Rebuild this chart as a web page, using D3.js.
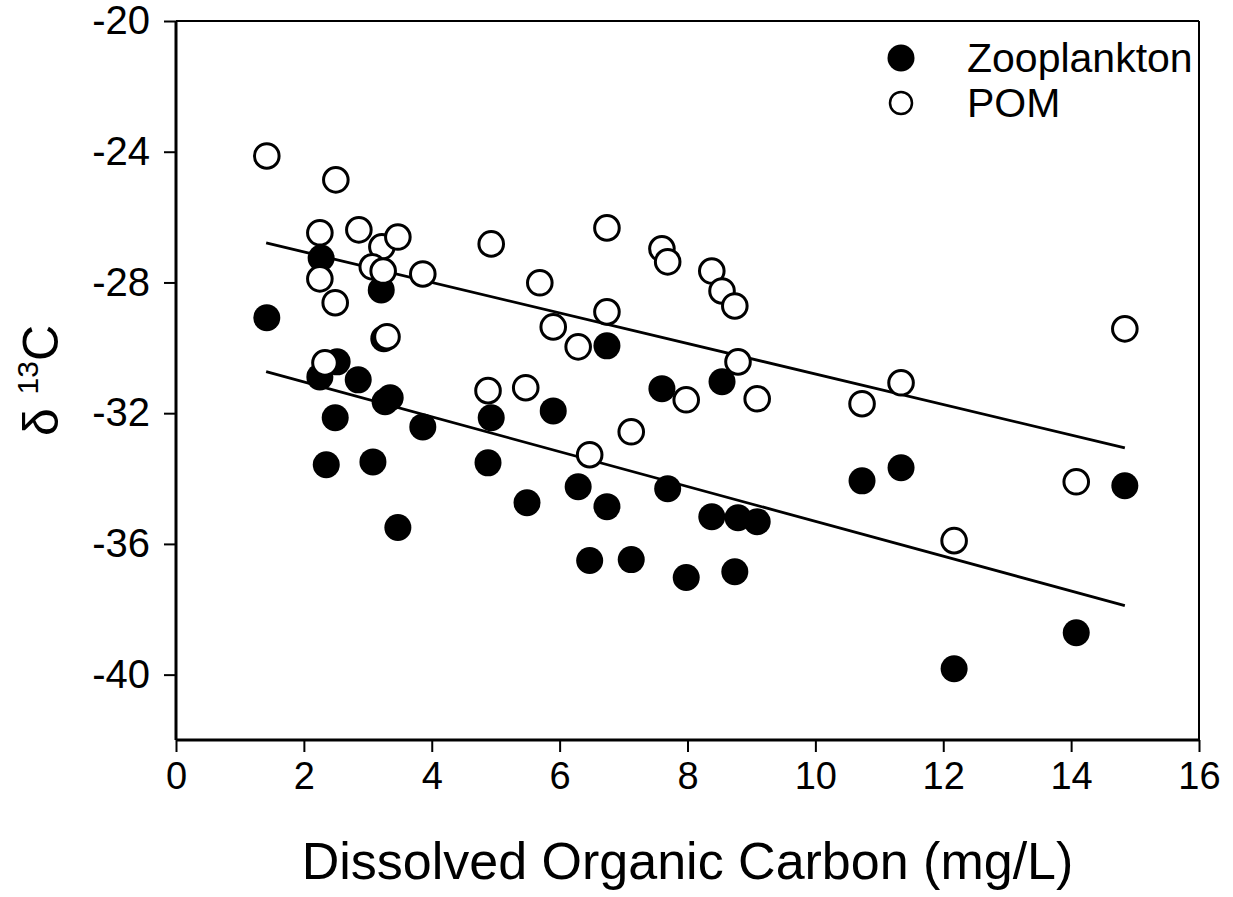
<!DOCTYPE html>
<html>
<head>
<meta charset="utf-8">
<script src="https://cdn.jsdelivr.net/npm/d3@7"></script>
<style>
  html, body { margin: 0; padding: 0; background: #fff; }
  svg { display: block; }
  text { font-family: "Liberation Sans", Arial, sans-serif; fill: #000; }
</style>
</head>
<body>
<svg id="chart" width="1233" height="897"></svg>
<script>
// ---- data ----
const zooX = [1.42, 2.27, 3.21, 3.25, 2.25, 2.52, 2.85, 3.27, 3.35, 2.49, 3.86, 2.35, 3.08, 3.47,
              6.74, 4.93, 5.90, 7.60, 8.54, 4.88, 6.29, 7.69, 5.49, 6.74, 8.38, 8.79, 9.09,
              6.47, 7.12, 7.98, 8.74, 10.73, 11.34, 14.84, 14.08, 12.17];
const zooY = [-29.08, -27.25, -28.23, -29.72, -30.89, -30.43, -30.98, -31.65, -31.53, -32.14, -32.42, -33.58, -33.49, -35.50,
              -29.94, -32.14, -31.93, -31.25, -31.04, -33.52, -34.25, -34.31, -34.74, -34.86, -35.17, -35.20, -35.32,
              -36.51, -36.48, -37.03, -36.85, -34.07, -33.67, -34.22, -38.72, -39.82];
const pomX = [1.42, 2.50, 2.25, 2.86, 3.22, 3.47, 3.07, 3.24, 3.86, 2.25, 2.49, 3.30, 2.33,
              4.93, 6.74, 7.60, 7.69, 8.38, 8.54, 8.74, 5.69, 6.74, 5.90, 6.29, 8.79,
              4.88, 5.47, 7.98, 9.09, 7.12, 6.47, 10.73, 11.34, 14.84, 14.08, 12.17];
const pomY = [-24.13, -24.86, -26.48, -26.39, -26.91, -26.61, -27.52, -27.65, -27.74, -27.89, -28.62, -29.66, -30.46,
              -26.82, -26.33, -26.97, -27.37, -27.65, -28.26, -28.72, -28.01, -28.90, -29.36, -29.97, -30.43,
              -31.31, -31.22, -31.59, -31.56, -32.57, -33.27, -31.71, -31.07, -29.42, -34.10, -35.90];
// regression lines: x range and y at both ends
const fitX = [1.41, 14.84];
const pomFitY = [-26.79, -33.06];
const zooFitY = [-30.73, -37.89];
const xTicks = [0, 2, 4, 6, 8, 10, 12, 14, 16];
const yTicks = [-20, -24, -28, -32, -36, -40];
const seriesNames = ["Zooplankton", "POM"];
const xTitle = "Dissolved Organic Carbon (mg/L)";

// ---- layout ----
const svg = d3.select("#chart");
const L = 176, R = 1199, T = 21, B = 740;
const x = d3.scaleLinear().domain([0, 16]).range([L, R]);
const y = d3.scaleLinear().domain([-42, -20]).range([B, T]);

// frame (top & right)
svg.append("line").attr("x1", L).attr("x2", R).attr("y1", T).attr("y2", T)
  .attr("stroke", "#000").attr("stroke-width", 2);
svg.append("line").attr("x1", R).attr("x2", R).attr("y1", T).attr("y2", B)
  .attr("stroke", "#000").attr("stroke-width", 2);

// axes
const xAxis = d3.axisBottom(x).tickValues(xTicks).tickSize(12).tickPadding(10)
  .tickFormat(d => String(d));
const gx = svg.append("g").attr("transform", `translate(0,${B})`).call(xAxis);
const yAxis = d3.axisLeft(y).tickValues(yTicks).tickSize(12).tickPadding(14)
  .tickFormat(d => String(d));
const gy = svg.append("g").attr("transform", `translate(${L},0)`).call(yAxis);

[gx, gy].forEach(g => {
  g.select(".domain").attr("stroke", "#000").attr("stroke-width", 3);
  g.selectAll(".tick line").attr("stroke", "#000").attr("stroke-width", 2);
  g.selectAll(".tick text").attr("font-size", 38).attr("font-family", '"Liberation Sans", Arial, sans-serif').attr("fill", "#000");
});
gy.selectAll(".tick text").attr("font-size", 40);
gx.select(".domain").attr("d", `M${L},0H${R}`);
gy.select(".domain").attr("d", `M0,${B}V${T}`);

// regression lines
[pomFitY, zooFitY].forEach(fy => {
  svg.append("line")
    .attr("x1", x(fitX[0])).attr("y1", y(fy[0]))
    .attr("x2", x(fitX[1])).attr("y2", y(fy[1]))
    .attr("stroke", "#000").attr("stroke-width", 2.8);
});

// points
const zoo = zooX.map((v, i) => ({x: v, y: zooY[i]}));
const pom = pomX.map((v, i) => ({x: v, y: pomY[i]}));
svg.append("g").selectAll("circle").data(zoo).join("circle")
  .attr("cx", d => x(d.x)).attr("cy", d => y(d.y)).attr("r", 13.5)
  .attr("fill", "#000");
svg.append("g").selectAll("circle").data(pom).join("circle")
  .attr("cx", d => x(d.x)).attr("cy", d => y(d.y)).attr("r", 12.3)
  .attr("fill", "#fff").attr("stroke", "#000").attr("stroke-width", 3);

// legend
const lg = svg.append("g");
lg.append("circle").attr("cx", 901).attr("cy", 58).attr("r", 13.5).attr("fill", "#000");
lg.append("circle").attr("cx", 901).attr("cy", 103).attr("r", 11).attr("fill", "#fff")
  .attr("stroke", "#000").attr("stroke-width", 2.5);
lg.append("text").attr("x", 967).attr("y", 72).attr("font-size", 41).text(seriesNames[0]);
lg.append("text").attr("x", 967).attr("y", 117).attr("font-size", 41).text(seriesNames[1]);

// axis titles
svg.append("text").attr("x", (L + R) / 2).attr("y", 879).attr("text-anchor", "middle")
  .attr("font-size", 52).text(xTitle);

const yt = svg.append("text").attr("transform", `translate(58,${(T + B) / 2}) rotate(-90)`)
  .attr("text-anchor", "middle").attr("font-size", 50);
yt.append("tspan").text("\u03B4 ");
yt.append("tspan").attr("font-size", 30).attr("dy", -20).text("13");
yt.append("tspan").attr("dy", 20).text("C");
</script>
</body>
</html>
